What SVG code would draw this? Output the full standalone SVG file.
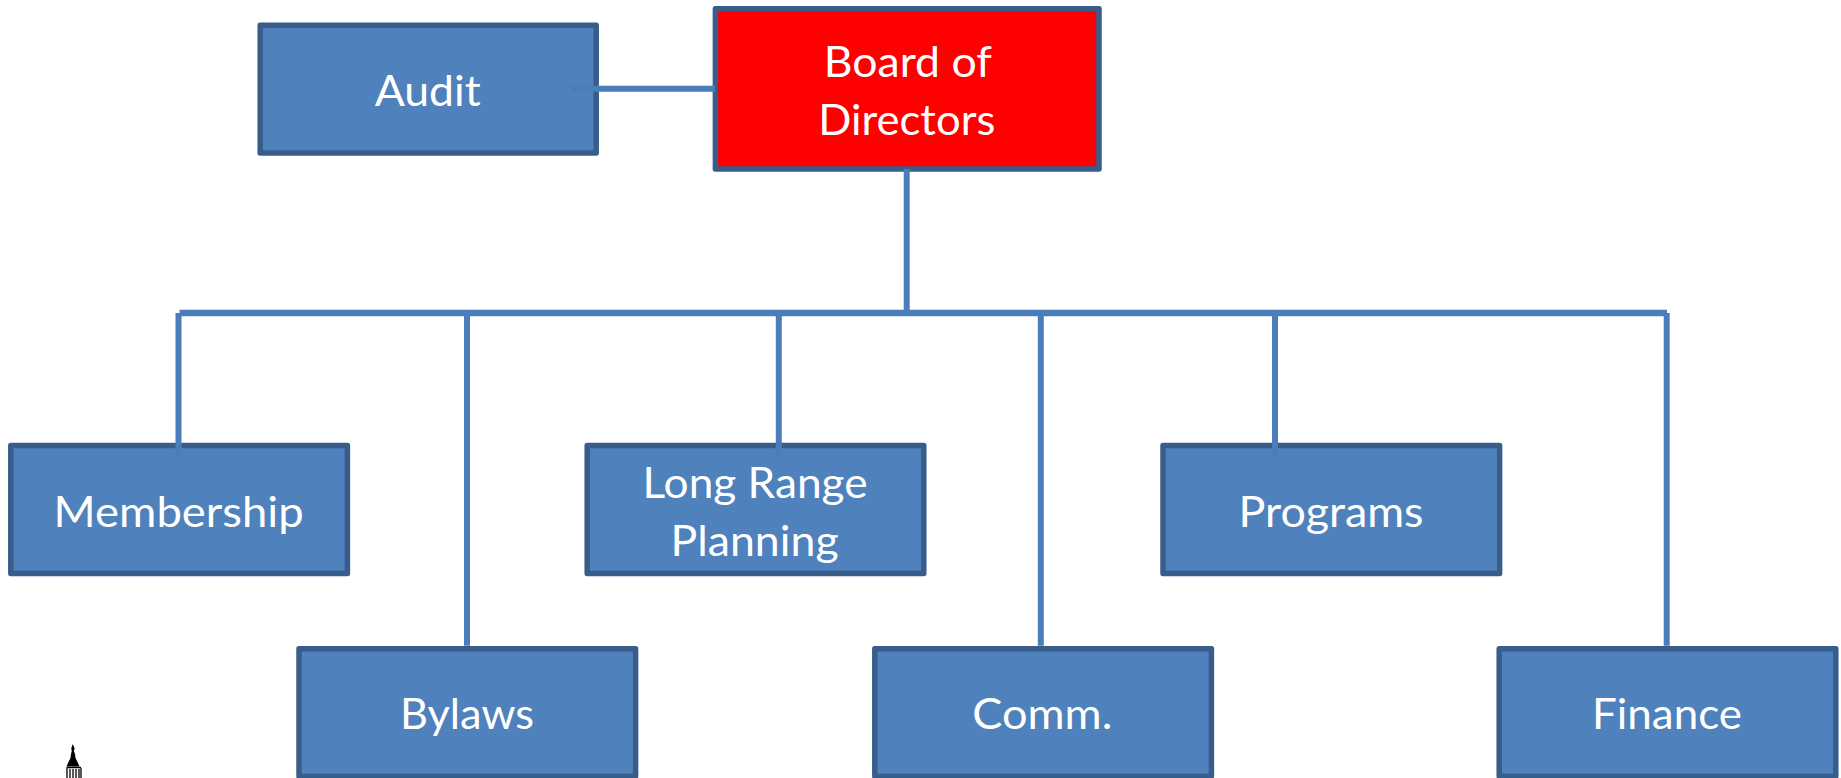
<svg xmlns="http://www.w3.org/2000/svg" width="1841" height="778" viewBox="0 0 1841 778">
<style>
.box{fill:#4f81bd;stroke:#385d8a;stroke-width:5.5;stroke-linejoin:round}
.red{fill:#f00;stroke:#385d8a;stroke-width:5.5;stroke-linejoin:round}
.lbl{font-family:"Lato","Open Sans","Liberation Sans",sans-serif;font-size:42.5px;fill:#fff;text-anchor:middle}
.conn{fill:none;stroke:#4a7ebb;stroke-width:6}
</style>
<rect width="1841" height="778" fill="#fff"/>
<g id="audit"><rect class="box" x="260.2" y="25.2" width="336" height="127.8"/><text class="lbl" x="427.7" y="105.5" textLength="106" lengthAdjust="spacingAndGlyphs">Audit</text></g>
<g id="board"><rect class="red" x="715.4" y="8.8" width="383.6" height="160.2"/><text class="lbl" x="907.8" y="76.5" textLength="168" lengthAdjust="spacingAndGlyphs">Board of</text><text class="lbl" x="906.8" y="134.5" textLength="177" lengthAdjust="spacingAndGlyphs">Directors</text></g>
<g id="membership"><rect class="box" x="10.8" y="445.5" width="336.6" height="128"/><text class="lbl" x="178.6" y="526.7" textLength="250" lengthAdjust="spacingAndGlyphs">Membership</text></g>
<g id="long-range"><rect class="box" x="587.2" y="445.5" width="336.6" height="128"/><text class="lbl" x="755" y="497.5" textLength="225" lengthAdjust="spacingAndGlyphs">Long Range</text><text class="lbl" x="754.6" y="555.5" textLength="168" lengthAdjust="spacingAndGlyphs">Planning</text></g>
<g id="programs"><rect class="box" x="1163" y="445.5" width="336.6" height="128"/><text class="lbl" x="1331" y="526.7" textLength="185" lengthAdjust="spacingAndGlyphs">Programs</text></g>
<g id="bylaws"><rect class="box" x="299" y="648.8" width="336.6" height="127.7"/><text class="lbl" x="467" y="729" textLength="134" lengthAdjust="spacingAndGlyphs">Bylaws</text></g>
<g id="comm"><rect class="box" x="874.8" y="648.8" width="336.6" height="127.7"/><text class="lbl" x="1042.3" y="729" textLength="140" lengthAdjust="spacingAndGlyphs">Comm.</text></g>
<g id="finance"><rect class="box" x="1499.2" y="648.8" width="336.6" height="127.7"/><text class="lbl" x="1667" y="729" textLength="150" lengthAdjust="spacingAndGlyphs">Finance</text></g>
<g id="connectors">
<path class="conn" d="M571 88.7H715"/>
<path class="conn" d="M906.7 169V313"/>
<path class="conn" style="stroke-width:6.5" d="M179.5 313H1667"/>
<path class="conn" d="M178.5 313V456.7"/>
<path class="conn" d="M467 313V645.7"/>
<path class="conn" d="M778.8 313V456.7"/>
<path class="conn" d="M1040.8 313V645.7"/>
<path class="conn" d="M1275 313V456.7"/>
<path class="conn" d="M1666.7 313V645.7"/>
</g>
<g id="tower">
<path fill="#000" d="M72.8 744L74.6 748.5L73.9 751L75 754L75.5 758L78 763L79.5 766.5H66.5L68 763L70.5 758L71 754L71.8 751L71.2 748.5Z"/>
<rect x="66" y="767" width="15.5" height="11" fill="#fff"/>
<path stroke="#000" stroke-width="1.3" fill="none" d="M66.5 767.5H81M67 768V778M70 769V778M73 769V778M76 769V778M79 769V778M81 768V778"/>
</g>
</svg>
